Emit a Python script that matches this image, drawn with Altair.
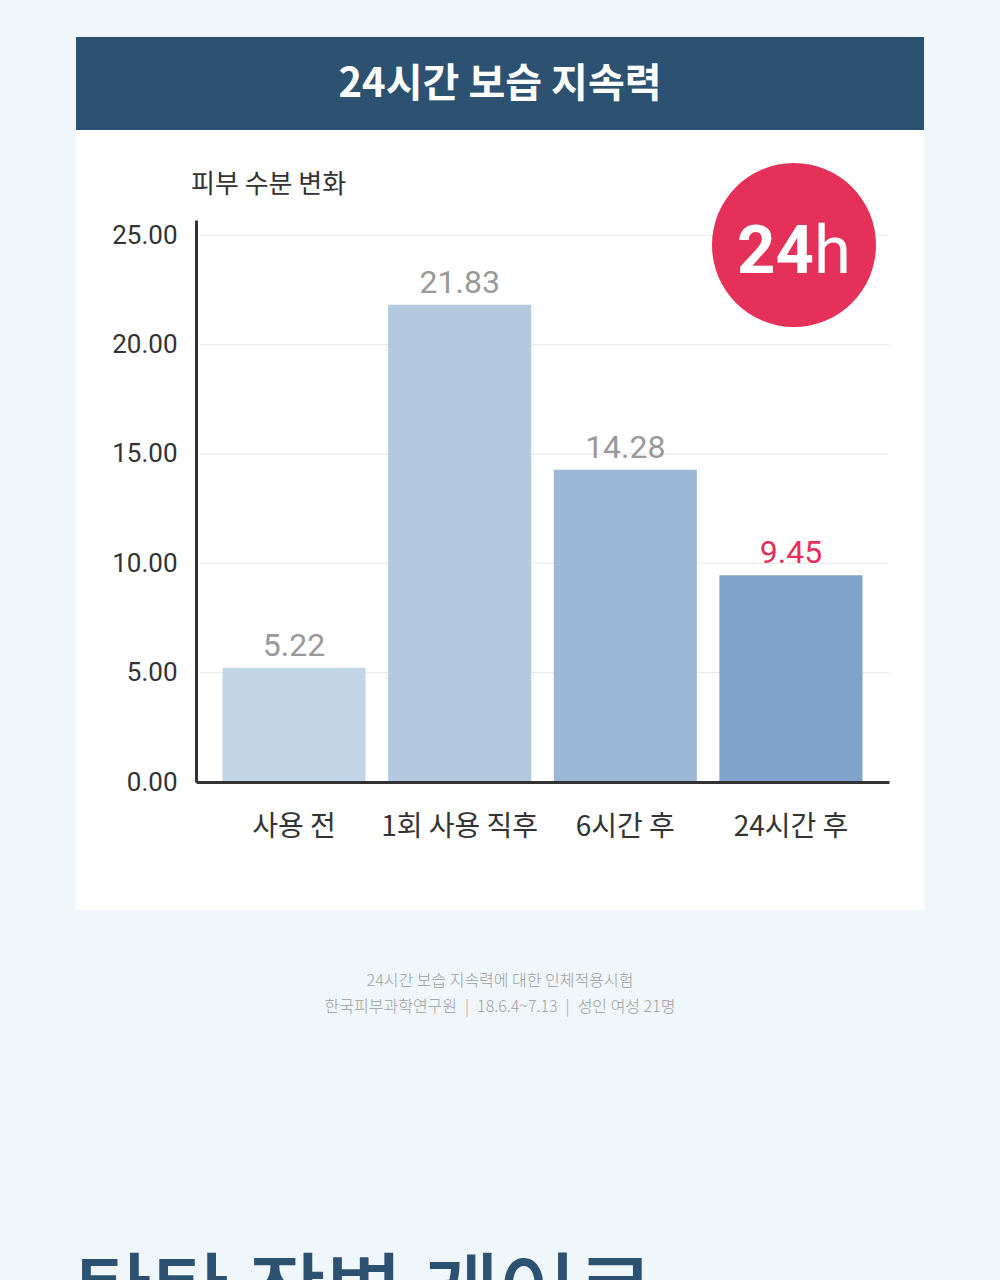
import altair as alt
import pandas as pd

# ---- data ----
categories = ["사용 전", "1회 사용 직후", "6시간 후", "24시간 후"]
values = [5.22, 21.83, 14.28, 9.45]
bar_colors = ["#c3d6e7", "#b3c9e0", "#9db8d7", "#80a3cb"]
y_ticks = [0, 5, 10, 15, 20, 25]
grid_values = [5, 10, 15, 20, 25]
highlight = "24시간 후"
title_text = ["24시간 보습 지속력"]
y_title = ["피부 수분 변화"]
badge_main = ["24"]
badge_unit = ["h"]
note_lines = ["24시간 보습 지속력에 대한 인체적용시험",
              "한국피부과학연구원\u2002|\u200218.6.4~7.13\u2002|\u2002성인 여성 21명"]
next_heading = ["탄탄 장벽 케어로"]

# ---- layout ----
W, H = 693, 562
L, T = 196, 220
KR = "Noto Sans CJK KR"
NUM = "Roboto, 'Noto Sans CJK KR', sans-serif"
NAVY = "#2d5271"
RED = "#e5315a"

df = pd.DataFrame({"cat": categories, "val": values})
grid_df = pd.DataFrame({"val": grid_values})
one = pd.DataFrame({"k": [0]})

x_enc = alt.X(
    "cat:N", sort=categories,
    scale=alt.Scale(paddingInner=0.136, paddingOuter=0.16),
    axis=alt.Axis(title=None, labelAngle=0, labelFontSize=28, labelColor="#333333",
                  labelFont=KR, labelPadding=31, domainColor="#333333", domainWidth=3,
                  ticks=False, grid=False, zindex=1),
)
y_enc = alt.Y(
    "val:Q",
    scale=alt.Scale(domain=[0, 25.7], nice=False, zero=True),
    axis=alt.Axis(title=None, values=y_ticks, format=".2f", labelFontSize=26,
                  labelColor="#333333", labelFont=NUM, labelPadding=19,
                  domainColor="#333333", domainWidth=3, ticks=False, grid=False, zindex=1),
)

card = alt.Chart(one).mark_rect(color="white").encode(
    x=alt.value(76 - L), x2=alt.value(924 - L), y=alt.value(130 - T), y2=alt.value(910 - T))
header = alt.Chart(one).mark_rect(color=NAVY).encode(
    x=alt.value(76 - L), x2=alt.value(924 - L), y=alt.value(37 - T), y2=alt.value(130 - T))
title = alt.Chart(pd.DataFrame({"t": title_text})).mark_text(
    font=KR, fontSize=40, fontWeight="bold", color="white", align="center", baseline="middle"
).encode(x=alt.value(500 - L), y=alt.value(85 - T), text="t:N")
ytitle = alt.Chart(pd.DataFrame({"t": y_title})).mark_text(
    font=KR, fontSize=26, color="#333333", align="left", baseline="middle"
).encode(x=alt.value(191 - L), y=alt.value(185 - T), text="t:N")

grid = alt.Chart(grid_df).mark_rule(color="#e6e6e6", strokeWidth=1).encode(
    y=y_enc, x=alt.value(4), x2=alt.value(W))

bars = alt.Chart(df).mark_bar().encode(
    x=x_enc, y=y_enc,
    color=alt.Color("cat:N", sort=categories,
                    scale=alt.Scale(domain=categories, range=bar_colors), legend=None))

labels = alt.Chart(df).mark_text(
    font=NUM, fontSize=32, baseline="alphabetic", dy=-12
).encode(
    x=x_enc, y=y_enc, text=alt.Text("val:Q", format=".2f"),
    color=alt.condition(alt.datum.cat == highlight, alt.value(RED), alt.value("#999999")))

circle = alt.Chart(one).mark_circle(size=164 * 164, opacity=1, color=RED).encode(
    x=alt.value(794 - L), y=alt.value(245 - T))
t24 = alt.Chart(pd.DataFrame({"t": badge_main})).mark_text(
    font=NUM, fontSize=67, fontWeight="bold", color="white", align="right", baseline="alphabetic"
).encode(x=alt.value(814 - L), y=alt.value(273 - T), text="t:N")
th = alt.Chart(pd.DataFrame({"t": badge_unit})).mark_text(
    font=NUM, fontSize=67, fontWeight="normal", color="white", align="left", baseline="alphabetic"
).encode(x=alt.value(814 - L), y=alt.value(273 - T), text="t:N")

notes_df = pd.DataFrame({"t": note_lines})
note1 = alt.Chart(notes_df.iloc[[0]]).mark_text(
    font=KR, fontSize=16, fontWeight=300, color="#9e9e9e", align="center", baseline="middle"
).encode(x=alt.value(500 - L), y=alt.value(981 - T), text="t:N")
note2 = alt.Chart(notes_df.iloc[[1]]).mark_text(
    font=KR, fontSize=16, fontWeight=300, color="#9e9e9e", align="center", baseline="middle"
).encode(x=alt.value(500 - L), y=alt.value(1007 - T), text="t:N")

heading = alt.Chart(pd.DataFrame({"t": next_heading})).mark_text(
    font=KR, fontSize=84, fontWeight=500, color=NAVY, align="left", baseline="alphabetic"
).encode(x=alt.value(75 - L), y=alt.value(1323 - T), text="t:N")

chart = alt.layer(
    card, header, title, ytitle, grid, bars, labels, circle, t24, th, note1, note2, heading
).properties(
    width=W, height=H,
    padding={"left": L, "top": T, "right": 1000 - L - W, "bottom": 1280 - T - H},
    autosize=alt.AutoSizeParams(type="none"),
).configure(background="#f0f7fb").configure_view(stroke=None)

chart.save("out.html", embed_options={"renderer": "svg", "actions": False})
